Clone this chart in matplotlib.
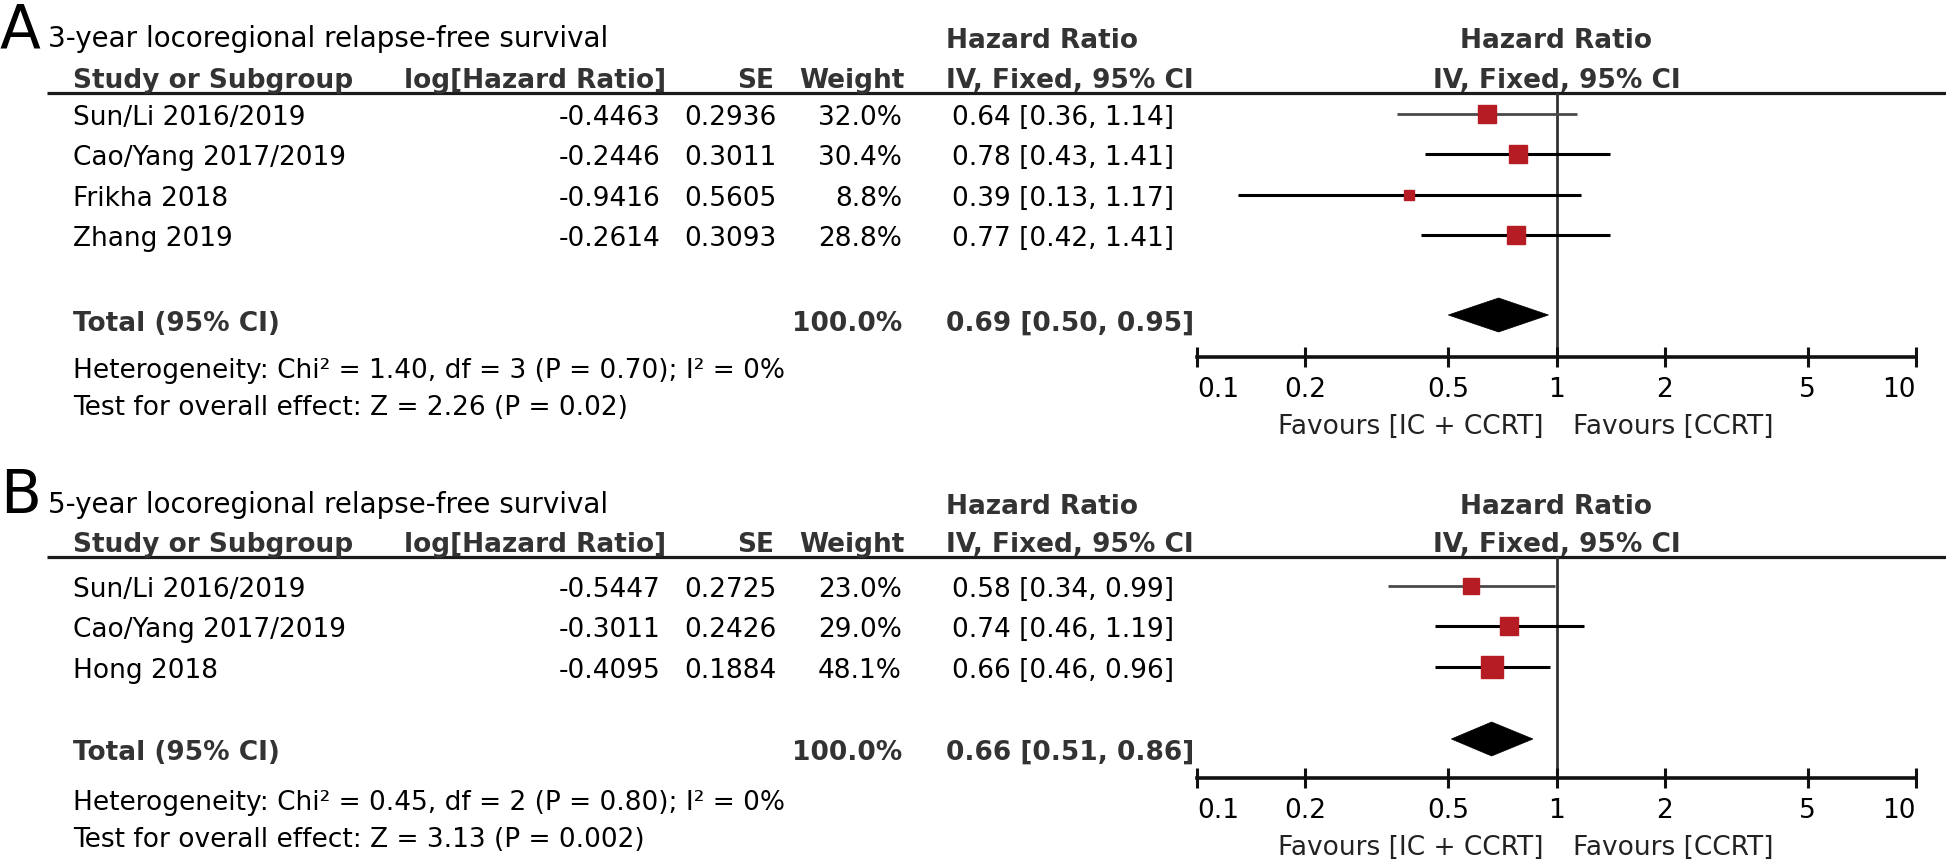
import numpy as np
import matplotlib
matplotlib.use('Agg')
import matplotlib.pyplot as plt
from matplotlib.ticker import NullLocator
from matplotlib.patches import Polygon

plt.rcParams['font.family'] = ['DejaVu Sans']

# ---- data: panel A (3-year LRRFS) ----
a_names = ["Sun/Li 2016/2019", "Cao/Yang 2017/2019", "Frikha 2018", "Zhang 2019"]
a_loghr = [-0.4463, -0.2446, -0.9416, -0.2614]
a_se = [0.2936, 0.3011, 0.5605, 0.3093]
a_weight = [32.0, 30.4, 8.8, 28.8]
a_hr = [0.64, 0.78, 0.39, 0.77]
a_lo = [0.36, 0.43, 0.13, 0.42]
a_hi = [1.14, 1.41, 1.17, 1.41]
a_total = [0.69, 0.50, 0.95]
a_total_weight = 100.0
a_het = "Heterogeneity: Chi² = 1.40, df = 3 (P = 0.70); I² = 0%"
a_test = "Test for overall effect: Z = 2.26 (P = 0.02)"

# ---- data: panel B (5-year LRRFS) ----
b_names = ["Sun/Li 2016/2019", "Cao/Yang 2017/2019", "Hong 2018"]
b_loghr = [-0.5447, -0.3011, -0.4095]
b_se = [0.2725, 0.2426, 0.1884]
b_weight = [23.0, 29.0, 48.1]
b_hr = [0.58, 0.74, 0.66]
b_lo = [0.34, 0.46, 0.46]
b_hi = [0.99, 1.19, 0.96]
b_total = [0.66, 0.51, 0.86]
b_total_weight = 100.0
b_het = "Heterogeneity: Chi² = 0.45, df = 2 (P = 0.80); I² = 0%"
b_test = "Test for overall effect: Z = 3.13 (P = 0.002)"

tick_vals = [0.1, 0.2, 0.5, 1, 2, 5, 10]
tick_labels = ["0.1", "0.2", "0.5", "1", "2", "5", "10"]

# ---- layout (pixels) ----
W, H = 1946, 866
X0, X1 = 1197, 1916          # forest plot x range (0.1 .. 10)
FS = 19                      # body font size (pt)
HDR = '#333333'
RED = '#B51C23'

fig = plt.figure(figsize=(W / 100, H / 100), dpi=100)
ov = fig.add_axes([0, 0, 1, 1])
ov.set_xlim(0, W)
ov.set_ylim(H, 0)
ov.axis('off')


def panel(letter, title, top, names, loghr, se, weight, hr, lo, hi, total,
          total_w, het, test, head_y, row0, total_y, diamond_y, axis_y, het_y):
    # top = baseline of title line
    ov.text(0, top, letter, fontsize=43, va='baseline', ha='left')
    ov.text(48, top, title, fontsize=20, va='baseline', ha='left')
    ov.text(946, top + 1, "Hazard Ratio", fontsize=FS, fontweight='bold',
            color=HDR, va='baseline', ha='left')
    ov.text((X0 + X1) / 2 - 0.5, top + 1, "Hazard Ratio", fontsize=FS,
            fontweight='bold', color=HDR, va='baseline', ha='center')

    hy = head_y
    ov.text(73, hy, "Study or Subgroup", fontsize=FS, fontweight='bold',
            color=HDR, va='baseline', ha='left')
    ov.text(666, hy, "log[Hazard Ratio]", fontsize=FS, fontweight='bold',
            color=HDR, va='baseline', ha='right')
    ov.text(774, hy, "SE", fontsize=FS, fontweight='bold', color=HDR,
            va='baseline', ha='right')
    ov.text(905, hy, "Weight", fontsize=FS, fontweight='bold', color=HDR,
            va='baseline', ha='right')
    ov.text(946, hy, "IV, Fixed, 95% CI", fontsize=FS, fontweight='bold',
            color=HDR, va='baseline', ha='left')
    ov.text(1557, hy, "IV, Fixed, 95% CI", fontsize=FS, fontweight='bold',
            color=HDR, va='baseline', ha='center')
    line_y = hy + 5
    ov.plot([47, W], [line_y, line_y], color='#1a1a1a', lw=2.3,
            solid_capstyle='butt')

    ys = [row0 + 40.3 * i for i in range(len(names))]
    for y, n, l, s, w, h, a, b in zip(ys, names, loghr, se, weight, hr, lo, hi):
        ov.text(73, y, n, fontsize=FS, va='baseline', ha='left')
        ov.text(661, y, f"{l:.4f}", fontsize=FS, va='baseline', ha='right')
        ov.text(777, y, f"{s:.4f}", fontsize=FS, va='baseline', ha='right')
        ov.text(902, y, f"{w:.1f}%", fontsize=FS, va='baseline', ha='right')
        ov.text(952, y, f"{h:.2f} [{a:.2f}, {b:.2f}]", fontsize=FS,
                va='baseline', ha='left')

    ov.text(73, total_y, "Total (95% CI)", fontsize=FS, fontweight='bold',
            color=HDR, va='baseline', ha='left')
    ov.text(902, total_y, f"{total_w:.1f}%", fontsize=FS,
            fontweight='bold', color=HDR, va='baseline', ha='right')
    ov.text(946, total_y, f"{total[0]:.2f} [{total[1]:.2f}, {total[2]:.2f}]",
            fontsize=FS, fontweight='bold', color=HDR, va='baseline',
            ha='left')
    ov.text(73, het_y, het, fontsize=FS, va='baseline', ha='left')
    ov.text(73, het_y + 37, test, fontsize=FS, va='baseline', ha='left')

    # forest axes, y in pixel units
    ax = fig.add_axes([X0 / W, 1 - axis_y / H, (X1 - X0) / W,
                       (axis_y - line_y) / H])
    ax.set_xscale('log')
    ax.set_xlim(0.1, 10)
    ax.set_ylim(axis_y, line_y)
    ax.patch.set_visible(False)
    for s in ['top', 'left', 'right']:
        ax.spines[s].set_visible(False)
    ax.spines['bottom'].set_linewidth(2.6)
    ax.spines['bottom'].set_color('#111111')
    ax.set_yticks([])
    ax.set_xticks(tick_vals)
    ax.set_xticklabels(tick_labels)
    ax.xaxis.set_minor_locator(NullLocator())
    ax.tick_params(axis='x', direction='inout', length=14.4, width=2.2,
                   pad=7.5, labelsize=FS, color='#111111')
    labs = ax.get_xticklabels()
    labs[0].set_horizontalalignment('left')
    labs[-1].set_horizontalalignment('right')
    ax.axvline(1, color='#333333', lw=2.0, zorder=1)

    for i, (y, w, h, a, b) in enumerate(zip(ys, weight, hr, lo, hi)):
        c = '#4a4a4a' if i == 0 else '#000000'
        ax.plot([a, b], [y - 11, y - 11], color=c, lw=2.0 if i == 0 else 2.2,
                solid_capstyle='butt', zorder=2, clip_on=False)
        ax.plot([h], [y - 11], marker='s', ms=3.2 * np.sqrt(w) * 0.72,
                color=RED, mec=RED, zorder=3, clip_on=False)

    hh = 17
    ax.add_patch(Polygon([[total[1], diamond_y], [total[0], diamond_y - hh],
                          [total[2], diamond_y], [total[0], diamond_y + hh]],
                         closed=True, facecolor='black', edgecolor='black',
                         lw=0.5, zorder=3))

    fy = axis_y + 77
    ov.text(1544, fy, "Favours [IC + CCRT]", fontsize=FS, color='#222222',
            va='baseline', ha='right')
    ov.text(1573, fy, "Favours [CCRT]", fontsize=FS, color='#222222',
            va='baseline', ha='left')


panel("A", "3-year locoregional relapse-free survival", 47,
      a_names, a_loghr, a_se, a_weight, a_hr, a_lo, a_hi, a_total,
      a_total_weight, a_het, a_test, head_y=88, row0=125, total_y=331,
      diamond_y=315, axis_y=357, het_y=378)
panel("B", "5-year locoregional relapse-free survival", 513,
      b_names, b_loghr, b_se, b_weight, b_hr, b_lo, b_hi, b_total,
      b_total_weight, b_het, b_test, head_y=552, row0=597, total_y=760,
      diamond_y=739, axis_y=778, het_y=810)

fig.savefig('out.png', dpi=100)
